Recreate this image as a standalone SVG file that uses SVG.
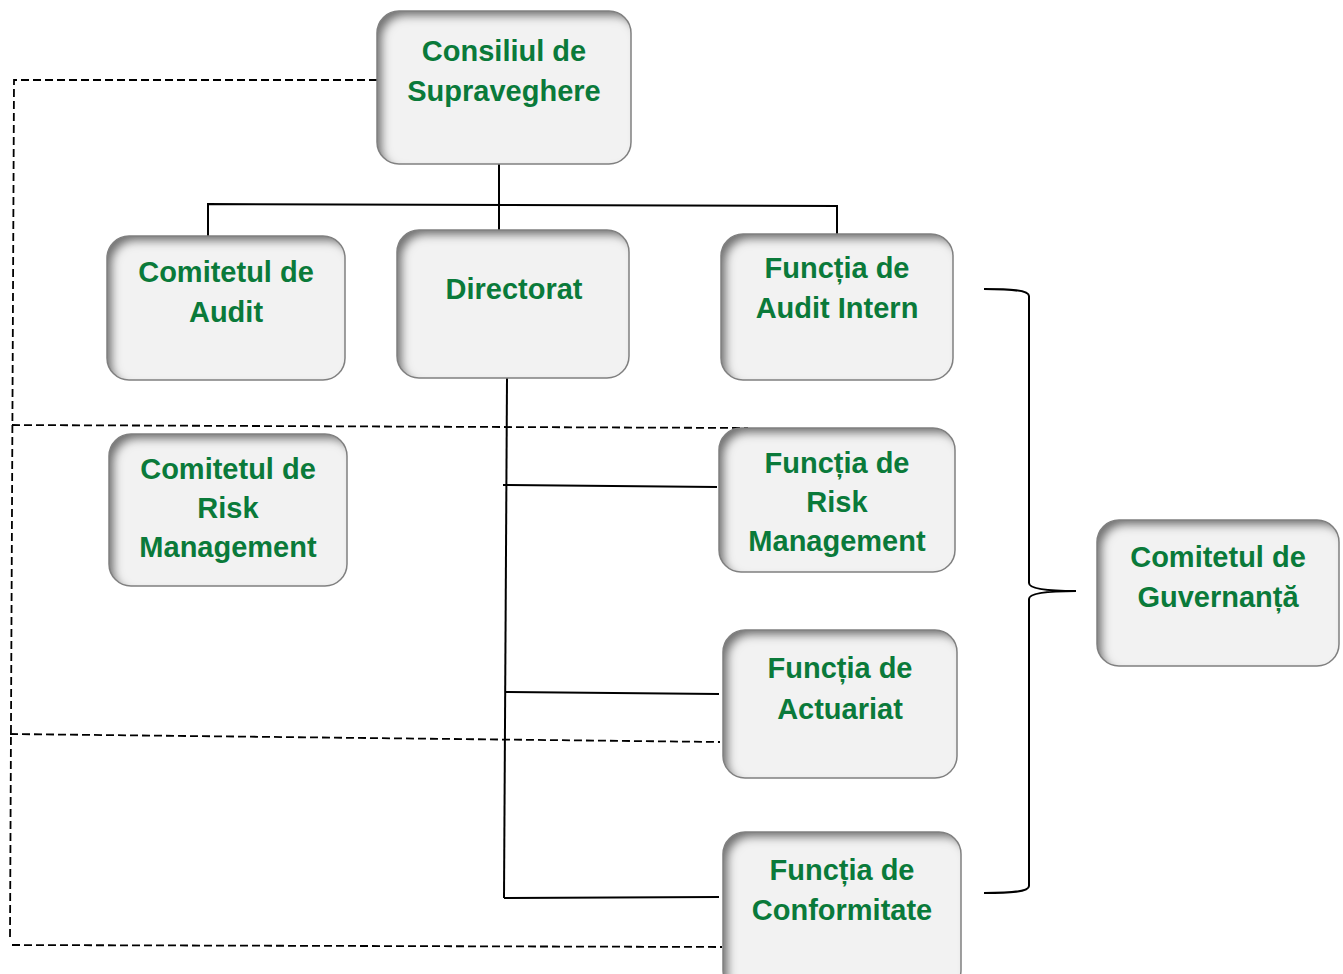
<svg xmlns="http://www.w3.org/2000/svg" width="1343" height="974" viewBox="0 0 1343 974">
<defs>
<filter id="inset" x="-10%" y="-12%" width="120%" height="124%">
<feComponentTransfer in="SourceAlpha" result="inv"><feFuncA type="table" tableValues="1 0"/></feComponentTransfer>
<feGaussianBlur in="inv" stdDeviation="4"/>
<feOffset dx="6" dy="6" result="ob"/>
<feFlood flood-color="#000" flood-opacity="0.8"/>
<feComposite in2="ob" operator="in"/>
<feComposite in2="SourceAlpha" operator="in" result="sh"/>
<feMerge><feMergeNode in="SourceGraphic"/><feMergeNode in="sh"/></feMerge>
</filter>
<style>
.box{fill:#f2f2f2;filter:url(#inset)}
.edge{fill:none;stroke:#808080;stroke-width:1.5}
.t{font-family:"Liberation Sans",Arial,sans-serif;font-weight:bold;font-size:29px;fill:#0a7a3a;text-anchor:middle}
.solid{fill:none;stroke:#000;stroke-width:2}
.dash{fill:none;stroke:#000;stroke-width:1.8;stroke-dasharray:8 4}
</style>
</defs>
<rect width="1343" height="974" fill="#fff"/>
<g id="connectors">
<path class="dash" d="M377,80 L14,80 L10,940"/>
<path class="dash" d="M12,425 L748,428"/>
<path class="dash" d="M10,734 L720,742"/>
<path class="dash" d="M12,945 L722,947"/>
<path class="solid" d="M499,164 L499,230"/>
<path class="solid" d="M208,236 L208,204 L837,206 L837,234"/>
<path class="solid" d="M507,378 L504,898"/>
<path class="solid" d="M503,485 L717,487"/>
<path class="solid" d="M505,692 L719,694"/>
<path class="solid" d="M504,898 L719,897"/>
<path class="solid" d="M984,289 C1010,289 1029,290 1029,296 L1029,583 C1029,589 1050,591 1076,591 C1050,591 1029,593 1029,599 L1029,886 C1029,892 1010,893 984,893"/>
</g>
<g id="node-consiliul">
<rect class="box" x="377" y="11" width="254" height="153" rx="22"/>
<rect class="edge" x="377" y="11" width="254" height="153" rx="22"/>
<text class="t" x="504" y="61">Consiliul de</text>
<text class="t" x="504" y="101">Supraveghere</text>
</g>
<g id="node-comitet-audit">
<rect class="box" x="107" y="236" width="238" height="144" rx="22"/>
<rect class="edge" x="107" y="236" width="238" height="144" rx="22"/>
<text class="t" x="226" y="282">Comitetul de</text>
<text class="t" x="226" y="322">Audit</text>
</g>
<g id="node-directorat">
<rect class="box" x="397" y="230" width="232" height="148" rx="22"/>
<rect class="edge" x="397" y="230" width="232" height="148" rx="22"/>
<text class="t" x="514" y="299">Directorat</text>
</g>
<g id="node-audit-intern">
<rect class="box" x="721" y="234" width="232" height="146" rx="22"/>
<rect class="edge" x="721" y="234" width="232" height="146" rx="22"/>
<text class="t" x="837" y="278">Funcția de</text>
<text class="t" x="837" y="318">Audit Intern</text>
</g>
<g id="node-comitet-risk">
<rect class="box" x="109" y="434" width="238" height="152" rx="22"/>
<rect class="edge" x="109" y="434" width="238" height="152" rx="22"/>
<text class="t" x="228" y="479">Comitetul de</text>
<text class="t" x="228" y="518">Risk</text>
<text class="t" x="228" y="557">Management</text>
</g>
<g id="node-functia-risk">
<rect class="box" x="719" y="428" width="236" height="144" rx="22"/>
<rect class="edge" x="719" y="428" width="236" height="144" rx="22"/>
<text class="t" x="837" y="473">Funcția de</text>
<text class="t" x="837" y="512">Risk</text>
<text class="t" x="837" y="551">Management</text>
</g>
<g id="node-actuariat">
<rect class="box" x="723" y="630" width="234" height="148" rx="22"/>
<rect class="edge" x="723" y="630" width="234" height="148" rx="22"/>
<text class="t" x="840" y="678">Funcția de</text>
<text class="t" x="840" y="719">Actuariat</text>
</g>
<g id="node-conformitate">
<rect class="box" x="723" y="832" width="238" height="160" rx="22"/>
<rect class="edge" x="723" y="832" width="238" height="160" rx="22"/>
<text class="t" x="842" y="880">Funcția de</text>
<text class="t" x="842" y="920">Conformitate</text>
</g>
<g id="node-guvernanta">
<rect class="box" x="1097" y="520" width="242" height="146" rx="22"/>
<rect class="edge" x="1097" y="520" width="242" height="146" rx="22"/>
<text class="t" x="1218" y="567">Comitetul de</text>
<text class="t" x="1218" y="607">Guvernanță</text>
</g>
</svg>
